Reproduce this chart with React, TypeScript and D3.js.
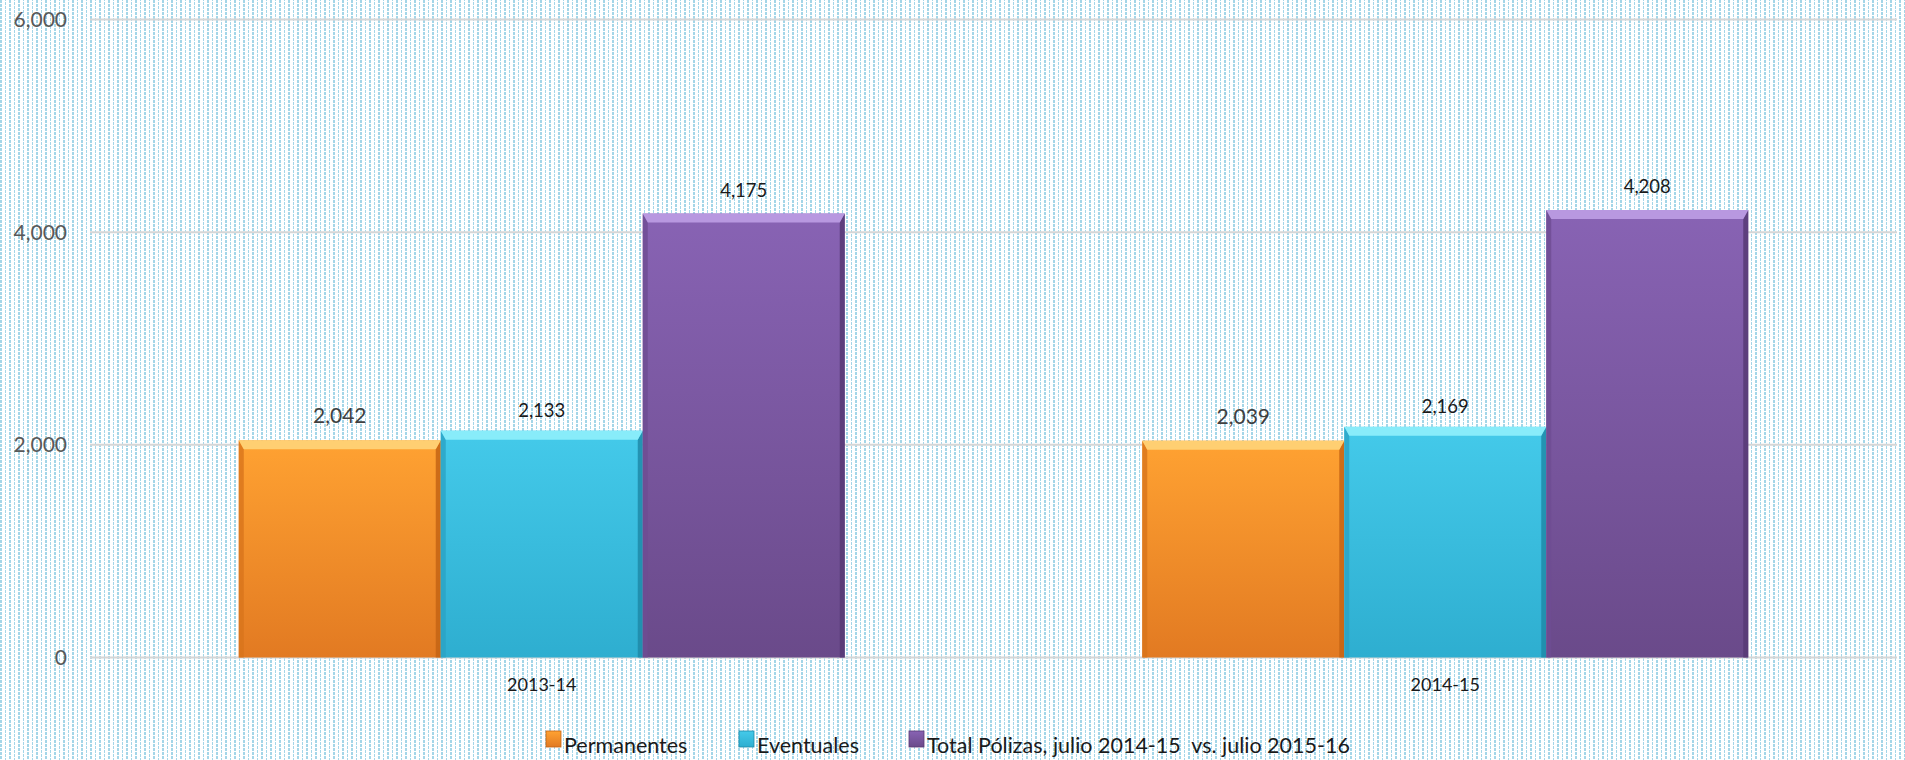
import React from "react";
import * as d3 from "d3";

const categories = ["2013-14", "2014-15"];
const seriesNames = ["Permanentes", "Eventuales", "Total Pólizas, julio 2014-15  vs. julio 2015-16"];
const permanentes = [2042, 2039];
const eventuales = [2133, 2169];
const totalPolizas = [4175, 4208];
const yTicks = [0, 2000, 4000, 6000];

const W = 1905;
const H = 760;

const palettes = [
  { id: "or", top: "#ffa232", bot: "#e27a22", bevel: "#ffcf72", side: "#d8741c", dark: "#c46414", label: "#404040", size: 21 },
  { id: "cy", top: "#44caea", bot: "#2eaed0", bevel: "#88ecfa", side: "#2aa2c4", dark: "#1e8aa8", label: "#1a1a1a", size: 18.5 },
  { id: "pu", top: "#8863b4", bot: "#6a4a8a", bevel: "#b898e0", side: "#6e4c92", dark: "#573a74", label: "#1a1a1a", size: 18.5 },
];

export default function App() {
  const values = [permanentes, eventuales, totalPolizas];
  const x0 = d3.scaleBand<string>().domain(categories).range([90, 1897]);
  const y = d3.scaleLinear().domain([0, 6000]).range([657.5, 19.5]);
  const groupW = 606;
  const x1 = d3.scaleBand<string>().domain(seriesNames).range([0, groupW]);
  const fmt = d3.format(",");
  const labelOffsets = [17, 14, 17];

  const legendX = [546, 739, 909];

  return (
    <svg width={W} height={H} style={{ position: "absolute", left: 0, top: 0, display: "block" }}
      fontFamily="Lato, 'Open Sans', sans-serif">
      <defs>
        <pattern id="bgdots" width="9" height="4" patternUnits="userSpaceOnUse">
          <rect x="0" y="0" width="9" height="4" fill="#ffffff" />
          <rect x="0" y="0" width="2" height="3" fill="#a4d6e8" />
          <rect x="5" y="2" width="1" height="3" fill="#a4d6e8" />
          <rect x="5" y="0" width="1" height="1" fill="#a4d6e8" />
        </pattern>
        {palettes.map((p) => (
          <linearGradient key={p.id} id={"g" + p.id} x1="0" y1="0" x2="0" y2="1">
            <stop offset="0" stopColor={p.top} />
            <stop offset="1" stopColor={p.bot} />
          </linearGradient>
        ))}
      </defs>
      <rect x={0} y={0} width={W} height={H} fill="url(#bgdots)" />

      {yTicks.map((t) => (
        <g key={t}>
          <line x1={90} x2={1897} y1={y(t)} y2={y(t)} stroke="#d6d6d6" strokeWidth={2} />
          <text x={67} y={y(t)} dy="0.36em" textAnchor="end" fontSize={21} fill="#595959">
            {fmt(t)}
          </text>
        </g>
      ))}

      {categories.map((c, ci) => {
        const gx = (x0(c) as number) + x0.bandwidth() / 2 - groupW / 2;
        return (
          <g key={c}>
            {seriesNames.map((s, si) => {
              const p = palettes[si];
              const v = values[si][ci];
              const bx = gx + (x1(s) as number);
              const bw = x1.bandwidth();
              const by = y(v);
              const b0 = y(0);
              const bt = 9;
              const bs = 5;
              return (
                <g key={s}>
                  <rect x={bx} y={by} width={bw} height={b0 - by} fill={`url(#g${p.id})`} />
                  <polygon
                    points={`${bx},${by} ${bx + bs},${by + bt} ${bx + bs},${b0} ${bx},${b0}`}
                    fill={p.side}
                    opacity={0.8}
                  />
                  <polygon
                    points={`${bx + bw},${by} ${bx + bw - bs},${by + bt} ${bx + bw - bs},${b0} ${bx + bw},${b0}`}
                    fill={p.dark}
                    opacity={0.85}
                  />
                  <polygon
                    points={`${bx},${by} ${bx + bw},${by} ${bx + bw - bs},${by + bt} ${bx + bs},${by + bt}`}
                    fill={p.bevel}
                  />
                  <text x={bx + bw / 2} y={by - labelOffsets[si]} textAnchor="middle" fontSize={p.size} fill={p.label}>
                    {fmt(v)}
                  </text>
                </g>
              );
            })}
            <text x={(x0(c) as number) + x0.bandwidth() / 2} y={691} textAnchor="middle" fontSize={18} fill="#1a1a1a">
              {c}
            </text>
          </g>
        );
      })}

      {seriesNames.map((s, si) => {
        const p = palettes[si];
        return (
          <g key={s}>
            <rect x={legendX[si]} y={731} width={15} height={16} fill={`url(#g${p.id})`} stroke={p.dark} strokeWidth={0.8} />
            <text x={legendX[si] + 18} y={753} fontSize={21.5} fill="#1a1a1a" style={{ whiteSpace: "pre" }}>
              {s}
            </text>
          </g>
        );
      })}
    </svg>
  );
}
